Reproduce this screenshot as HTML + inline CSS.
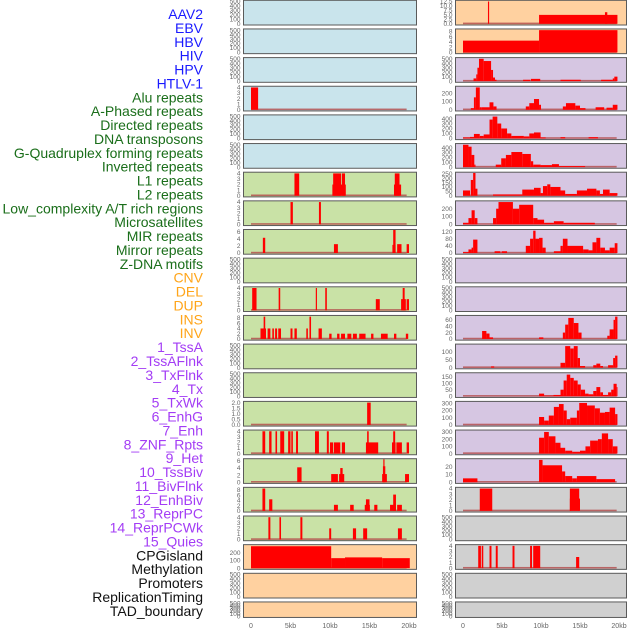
<!DOCTYPE html>
<html><head><meta charset="utf-8"><style>
body{margin:0;background:#fff;}
svg{display:block;font-family:"Liberation Sans",sans-serif;}
</style></head><body>
<svg id="chart" width="630" height="630" viewBox="0 0 630 630"></svg>
<script>
// Track labels
const labels = ["AAV2","EBV","HBV","HIV","HPV","HTLV-1","Alu repeats","A-Phased repeats","Directed repeats","DNA transposons","G-Quadruplex forming repeats","Inverted repeats","L1 repeats","L2 repeats","Low_complexity A/T rich regions","Microsatellites","MIR repeats","Mirror repeats","Z-DNA motifs","CNV","DEL","DUP","INS","INV","1_TssA","2_TssAFlnk","3_TxFlnk","4_Tx","5_TxWk","6_EnhG","7_Enh","8_ZNF_Rpts","9_Het","10_TssBiv","11_BivFlnk","12_EnhBiv","13_ReprPC","14_ReprPCWk","15_Quies","CPGisland","Methylation","Promoters","ReplicationTiming","TAD_boundary"];
const labelGroups = ["v","v","v","v","v","v","r","r","r","r","r","r","r","r","r","r","r","r","r","s","s","s","s","s","c","c","c","c","c","c","c","c","c","c","c","c","c","c","c","o","o","o","o","o"];
const xTickLabels = ["0","5kb","10kb","15kb","20kb"];
const xTickValues = [0,5,10,15,20];

// Left column track data: [startKb, endKb, value]
const L0=[],L1=[],L2=[],L4=[],L5=[],L9=[],L12=[],L13=[],L20=[],L21=[];
const L3=[[0,0.9,4]];
const L6=[[5.5,6.1,4],[10.3,12.0,2],[10.4,11.4,4],[11.5,11.9,4],[18.1,19.0,2],[18.2,18.8,4]];
const L7=[[5.0,5.3,4],[8.6,8.85,4]];
const L8=[[1.5,1.8,4.3],[10.5,11.0,2.5],[17.9,18.3,2.3],[18.0,18.3,6.5],[18.5,19.05,2.5],[19.7,20,2.5]];
const L10=[[0.15,0.7,4],[3.5,3.7,4],[8.2,8.35,4],[9.4,9.6,4],[15.8,16.3,2],[19.0,19.6,2],[19.2,19.45,4],[19.7,20,2]];
const L11=[[1.2,1.9,4],[1.6,1.8,8.5],[2.1,2.45,4],[2.7,2.9,4],[3.05,3.3,4],[3.45,3.8,4],[5.0,5.25,4],[5.5,5.8,4],[7.0,7.2,4],[7.4,7.6,8.5],[8.55,8.97,4],[9.9,10.2,2],[10.9,11.2,2],[11.4,11.9,2],[12.2,12.7,2],[12.9,13.4,2],[13.7,14.5,2],[15.2,15.5,2],[16.45,17.3,2],[18.1,18.4,2],[19.6,19.9,2]];
const L14=[[14.7,15.15,2]];
const L15=[[1.45,1.8,4],[2.3,2.6,4],[3.1,3.3,4],[3.7,4.2,4],[4.7,5.0,4],[5.1,5.3,4],[5.7,5.95,4],[8.1,8.6,4],[9.6,9.85,4],[10.0,10.4,2],[10.5,11.3,2],[11.5,11.9,2],[14.55,16.1,2],[14.7,14.9,4],[17.85,18.3,2],[18.0,18.25,4],[18.4,19.1,2],[19.7,20,2]];
const L16=[[5.85,6.4,4.2],[10.15,11.0,2.3],[11.15,11.8,2.3],[11.3,11.6,4],[16.6,17.2,2.3],[16.7,17.0,4.5],[16.75,16.9,6.5],[19.5,20,2.3]];
const L17=[[1.45,1.8,8.5],[2.3,2.7,4.4],[10.5,11.0,2.3],[12.55,13.0,2.3],[14.4,15.05,2.3],[14.55,15.0,4.4],[15.6,16.0,2.3],[17.6,18.35,2.3],[18.0,18.35,6.2],[18.5,19.1,2.3]];
const L18=[[2.2,2.45,4],[3.6,3.8,4],[6.25,6.5,4],[9.9,10.15,2],[12.9,13.3,2],[14.2,14.7,2],[18.6,19.1,2]];
const L19=[[0,10.15,285],[10.15,11.9,130],[11.9,16.6,140],[16.6,20.1,130]];

// Right column track data
const R9=[],R10=[],R18=[],R20=[],R21=[];
const R0=[[3.2,3.35,12.5],[9.75,19.8,5],[18.2,18.5,6.5]];
const R1=[[0,9.75,4.5],[9.75,19.8,8.5]];
const R2=[[1.35,1.7,60],[1.7,1.85,150],[1.85,2.05,300],[2.05,2.65,500],[2.65,3.6,450],[3.6,3.85,250],[3.85,4.1,80],[4.1,4.3,30],[7.7,8.6,30],[8.7,9.9,50],[12.5,15.1,30],[17.7,19.2,30],[19.2,19.4,60],[19.4,19.8,100]];
const R3=[[1.0,1.4,20],[1.4,1.65,150],[1.65,2.15,270],[2.15,2.4,30],[2.4,3.4,30],[3.4,3.9,90],[3.9,4.3,40],[8.05,8.5,40],[8.5,9.1,80],[9.1,9.75,130],[9.75,10.0,60],[12.8,13.2,40],[13.2,14.4,80],[14.4,15.0,50],[15.0,15.7,20],[17.0,18.1,30],[18.4,19.2,25],[19.2,19.8,60]];
const R4=[[0,0.9,20],[0.9,1.4,30],[1.4,2.15,90],[2.15,2.65,50],[2.65,3.4,80],[3.4,3.8,380],[3.8,4.4,440],[4.4,4.9,300],[4.9,5.65,200],[5.65,6.2,100],[6.2,7.8,50],[7.8,8.5,40],[8.5,9.1,100],[9.1,9.95,120],[9.95,10.6,20],[12.5,13.1,25],[16.1,17.3,25]];
const R5=[[0,0.7,460],[0.7,1.1,420],[1.1,1.45,250],[1.45,1.6,50],[4.2,4.9,50],[4.9,5.5,180],[5.5,6.2,250],[6.2,7.6,310],[7.6,8.7,270],[8.7,9.0,120],[9.0,9.95,50],[9.95,11.4,40],[11.4,12.3,60],[12.3,15.65,20]];
const R6=[[0,0.9,60],[1.0,1.3,180],[1.3,1.6,260],[1.6,1.85,80],[3.85,7.6,15],[7.6,9.1,70],[9.1,9.95,90],[9.95,10.25,30],[10.25,10.8,110],[10.8,11.2,130],[11.2,12.5,100],[12.5,13.1,60],[13.1,14.6,20],[14.6,15.9,60],[15.9,17.1,80],[17.1,17.55,60],[17.55,17.95,20],[17.95,18.8,70],[18.8,19.8,30]];
const R7=[[0,0.7,20],[0.7,1.1,80],[1.1,1.5,180],[1.5,1.85,80],[3.85,4.25,80],[4.25,4.55,200],[4.55,6.4,285],[6.4,7.2,200],[7.2,9.0,250],[9.0,9.55,80],[9.55,10.4,60],[10.4,11.65,20],[11.65,12.9,40],[12.9,16.9,20]];
const R8=[[0,0.7,5],[0.7,1.1,20],[1.1,1.3,30],[1.3,1.85,75],[4.05,4.8,10],[4.95,5.65,10],[8.05,8.6,40],[8.6,9.0,80],[9.0,9.3,125],[9.3,9.75,80],[9.75,10.2,85],[10.2,10.6,30],[11.65,12.5,10],[12.5,12.8,40],[12.8,13.4,80],[13.4,15.4,40],[15.4,16.1,20],[16.1,16.6,15],[16.6,17.1,60],[17.1,17.6,85],[17.6,18.2,30],[18.2,18.8,15],[18.8,19.45,30],[19.45,19.8,55]];
const R11=[[2.45,3.0,25],[3.0,3.4,17],[3.4,3.85,5],[9.75,10.3,5],[12.8,13.1,20],[13.1,13.5,45],[13.5,14.2,66],[14.2,14.8,50],[14.8,15.2,20],[18.5,18.8,10],[18.8,19.3,30],[19.3,19.5,60],[19.5,19.8,70]];
const R12=[[3.6,4.0,8],[12.5,13.1,30],[13.1,13.75,135],[13.75,14.2,120],[14.2,14.7,135],[14.7,15.0,60],[15.0,15.65,10],[16.7,17.1,15],[17.1,17.6,25],[17.6,17.95,10],[18.6,19.25,15],[19.25,19.5,60],[19.5,19.8,75]];
const R13=[[9.75,10.4,20],[10.4,11.6,5],[11.6,12.5,10],[12.5,12.9,50],[12.9,13.3,120],[13.3,13.75,165],[13.75,14.2,140],[14.2,14.7,120],[14.7,15.1,90],[15.1,15.65,50],[15.65,16.1,20],[16.1,16.7,15],[16.7,17.1,40],[17.1,17.6,70],[17.6,17.95,30],[17.95,18.6,10],[18.6,19.0,30],[19.0,19.3,50],[19.3,19.7,95],[19.7,19.8,70]];
const R14=[[9.75,10.4,110],[10.4,11.0,60],[11.0,11.65,130],[11.65,12.3,250],[12.3,12.9,290],[12.9,13.3,200],[13.3,13.75,80],[13.75,14.6,100],[14.6,14.9,200],[14.9,15.9,305],[15.9,16.9,270],[16.9,17.55,230],[17.55,18.2,170],[18.2,18.8,180],[18.8,19.5,240],[19.5,19.8,150]];
const R15=[[9.75,10.4,220],[10.4,11.0,300],[11.0,11.85,240],[11.85,12.5,150],[12.5,13.1,80],[13.1,14.0,40],[14.0,15.0,25],[15.0,15.7,40],[15.7,16.3,100],[16.3,17.3,180],[17.3,17.8,200],[17.8,18.6,280],[18.6,19.2,200],[19.2,19.8,100]];
const R16=[[0,1.85,5],[9.75,10.2,29],[10.2,12.7,22],[12.7,13.1,14],[13.1,14.0,8],[14.0,14.6,5],[14.6,17.1,8],[17.1,19.5,4]];
const R17=[[2.15,3.75,4],[13.7,14.9,4],[13.7,13.85,2.2],[14.8,15.0,2.2]];
const R19=[[1.95,2.3,4],[2.4,2.6,4],[3.4,3.65,4],[4.2,4.45,4],[6.35,6.6,4],[8.6,8.85,4],[9.0,9.9,4],[14.5,14.9,2]];

const leftTracks=[L0,L1,L2,L3,L4,L5,L6,L7,L8,L9,L10,L11,L12,L13,L14,L15,L16,L17,L18,L19,L20,L21];
const rightTracks=[R0,R1,R2,R3,R4,R5,R6,R7,R8,R9,R10,R11,R12,R13,R14,R15,R16,R17,R18,R19,R20,R21];
// y-axis tick labels per track
const leftTicks=[null,null,null,[0,1,2,3,4],null,null,[0,1,2,3,4],[0,1,2,3,4],[0,2,4,6],null,[0,1,2,3,4],[0,2,4,6,8],null,null,[0,0.5,1,1.5,2],[0,1,2,3,4],[0,2,4,6],[0,2,4,6,8],[0,1,2,3,4],[0,100,200],null,null];
const leftMax=[500,500,500,4,500,500,4,4,6.3,500,4,8.5,500,500,2,4,6.3,8.5,4,290,500,500];
const rightTicks=[[0,2.5,5,7.5,10,12.5],[0,2,4,6,8],[0,100,200,300,400,500],[0,100,200],[0,100,200,300,400],[0,100,200,300,400],[0,50,100,150,200,250],[0,100,200],[0,40,80,120],null,null,[0,20,40,60],[0,50,100],[0,50,100,150],[0,100,200,300],[0,100,200,300],[0,10,20],[0,1,2,3,4],null,[0,1,2,3,4],null,null];
const rightMax=[12.5,8.5,500,270,450,460,255,285,125,500,500,70,140,170,310,310,29,4,500,4,500,500];
</script>
<script>
const NS="http://www.w3.org/2000/svg";
const svg=document.getElementById('chart');
function mk(tag,attrs,parent){const e=document.createElementNS(NS,tag);for(const k in attrs)e.setAttribute(k,attrs[k]);(parent||svg).appendChild(e);return e;}
const groupColor={v:"#1a1aff",r:"#1a6e1a",s:"#ffa51a",c:"#a33cf5",o:"#111"};
labels.forEach((t,i)=>{
  const el=mk('text',{x:203,y:(19+13.88*i).toFixed(1),'text-anchor':'end','font-size':14,fill:groupColor[labelGroups[i]]});
  el.textContent=t;
  
  
});
function rowTop(i){return 0.3+28.65*i;}
function rowH(i){return i===21?15.5:24.7;}
function bgLeft(i){return i<6?"#c9e4ec":(i<19?"#c9e2a6":"#ffd1a0");}
function bgRight(i){return i<2?"#ffd1a0":(i<17?"#d6c6e2":"#d0d0d0");}
function drawPanel(col,i,data,ticks,ymax){
  const x0=col===0?243.5:455.5, w=col===0?173:171;
  const x0kb=col===0?251:463, pxkb=col===0?7.9:7.8;
  const top=rowTop(i), h=rowH(i);
  const g=mk('g',{});
  
  
  mk('rect',{x:x0,y:top,width:w,height:h,fill:col===0?bgLeft(i):bgRight(i)},g);
  const y0=top+h-1.2, y1=top+1.2;
  const yS=v=>y0-(v/ymax)*(y0-y1);
  const xS=kb=>x0kb+kb*pxkb;
  if(data.length){
    const bl=mk('rect',{x:xS(0),y:y0-1.2,width:xS(19.7)-xS(0),height:1.6,fill:"#b34a4a",opacity:0.8},g);
    
    
  }
  data.forEach(d=>{
    const r=mk('rect',{x:xS(d[0]).toFixed(2),y:yS(d[2]).toFixed(2),width:Math.max(0.8,xS(d[1])-xS(d[0])).toFixed(2),height:(y0-yS(d[2])).toFixed(2),fill:"#ff0000"},g);
    
    
  });
  const tk=ticks||[0,100,200,300,400,500];
  tk.forEach(v=>{
    const t=mk('text',{x:x0-3,y:(yS(v)+2.2).toFixed(1),'text-anchor':'end','font-size':6.5,fill:"#666"},g);
    t.textContent=String(v).replace(/^(\d+)$/, '$1')+(ticks&&ticks.some(z=>z%1)&&v%1===0?'.0':'');
    
    
  });
  mk('rect',{x:x0,y:top,width:w,height:h,fill:"none",stroke:"#5a5a5a","stroke-width":1},g);
}
leftTracks.forEach((d,i)=>drawPanel(0,i,d,leftTicks[i],leftMax[i]));
rightTracks.forEach((d,i)=>drawPanel(1,i,d,rightTicks[i],rightMax[i]));
[[251,7.9],[463,7.8]].forEach((c,ci)=>{
  xTickValues.forEach((v,k)=>{
    const t=mk('text',{x:c[0]+v*c[1],y:628,'text-anchor':'middle','font-size':7,fill:"#666"});
    t.textContent=xTickLabels[k];
    
    
  });
});
</script>
</body></html>
